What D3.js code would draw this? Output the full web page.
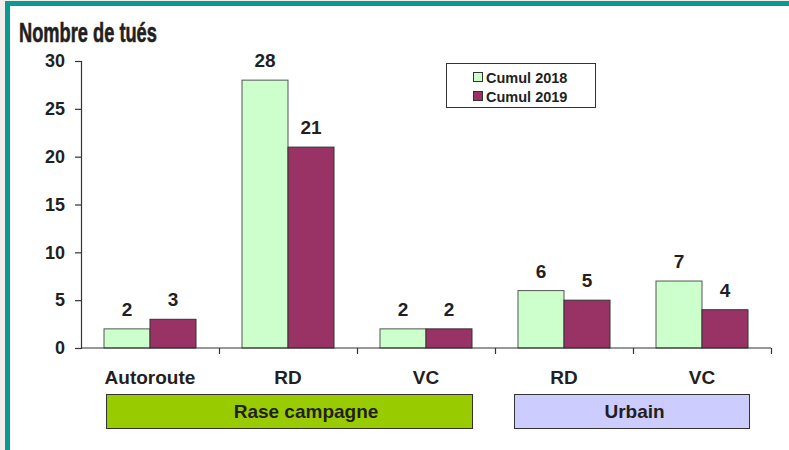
<!DOCTYPE html>
<html><head><meta charset="utf-8">
<script src="https://cdn.jsdelivr.net/npm/d3@7"></script>
<style>
html,body{margin:0;padding:0;background:#fff;}
svg{display:block;}
text{font-family:Arial,"Liberation Sans",sans-serif;fill:#231f20;}
</style></head>
<body>
<svg id="c" width="789" height="450"></svg>
<script>
const categories = ["Autoroute","RD","VC","RD","VC"];
const series = ["Cumul 2018","Cumul 2019"];
const values2018 = [2,28,2,6,7];
const values2019 = [3,21,2,5,4];
const yTicks = [0,5,10,15,20,25,30];
const groupNames = ["Rase campagne","Urbain"];
const groupFrom = [0,3];
const groupTo = [2,4];
const colors = ["#ccffcc","#993366"];
const groupColors = ["#99cc00","#ccccff"];

const svg = d3.select("#c");
// page frame
svg.append("rect").attr("x",0).attr("y",0).attr("width",789).attr("height",450).attr("fill","#f3eeee");
svg.append("rect").attr("x",5).attr("y",1).attr("width",784).attr("height",449).attr("fill","#0a9a8f");
svg.append("rect").attr("x",10).attr("y",6).attr("width",779).attr("height",444).attr("fill","#ffffff");

const x0 = 81, x1 = 771, yBase = 348, yTop = 61;
const x = d3.scaleBand().domain(d3.range(categories.length)).range([x0,x1]);
const xs = d3.scaleBand().domain(series).range([0,x.bandwidth()]).paddingOuter(0.5).paddingInner(0);
const y = d3.scaleLinear().domain([0,30]).range([yBase,yTop]);

// title (condensed heavy look)
const title = svg.append("text").attr("x",0).attr("y",0)
  .style("font-weight","bold").style("font-size","28px")
  .text("Nombre de tués");
const tw = title.node().getComputedTextLength();
title.attr("transform",`translate(19,42) scale(${138/tw},1)`).style("stroke","#231f20").style("stroke-width","0.6px");

// bars
const g = svg.append("g");
categories.forEach((c,i)=>{
  [values2018[i],values2019[i]].forEach((v,k)=>{
    const bx = x(i)+xs(series[k]);
    g.append("rect").attr("x",bx).attr("y",y(v)).attr("width",xs.bandwidth()).attr("height",yBase-y(v))
      .attr("fill",colors[k]).attr("stroke",k===0?"#555":"#333").attr("stroke-width",1);
    g.append("text").attr("x",bx+xs.bandwidth()/2).attr("y",y(v)-13).attr("text-anchor","middle")
      .style("font-weight","bold").style("font-size","19px").text(v);
  });
});

// y axis
const ya = svg.append("g").attr("transform",`translate(${x0},0)`)
  .call(d3.axisLeft(y).tickValues(yTicks).tickSize(6).tickPadding(10));
ya.select(".domain").attr("stroke","#333").attr("stroke-width",1.2);
ya.selectAll(".tick line").attr("stroke","#333").attr("stroke-width",1.2);
ya.selectAll(".tick text").style("font-family","Arial,'Liberation Sans',sans-serif").style("font-weight","bold").style("font-size","18px").attr("fill","#231f20");

// x axis
const xb = d3.scaleLinear().domain([0,categories.length]).range([x0,x1]);
const xa = svg.append("g").attr("transform",`translate(0,${yBase})`)
  .call(d3.axisBottom(xb).tickValues(d3.range(0,categories.length+1)).tickSize(6).tickFormat(""));
xa.select(".domain").attr("stroke","#333").attr("stroke-width",1.2).attr("d",`M${x0},0H${x1}`);
xa.selectAll(".tick line").attr("stroke","#333").attr("stroke-width",1.2);
xa.selectAll(".tick").filter(d=>d===0).select("line").remove();

// category labels
categories.forEach((c,i)=>{
  svg.append("text").attr("x",x(i)+x.bandwidth()/2).attr("y",384).attr("text-anchor","middle")
    .style("font-weight","bold").style("font-size","19px").text(c);
});

// group boxes
const boxInset = [[25,115],[19,116]];
const labelShift = [17,3];
groupNames.forEach((name,k)=>{
  const gx0 = x(groupFrom[k]) + boxInset[k][0];
  const gx1 = x(groupTo[k]) + boxInset[k][1];
  svg.append("rect").attr("x",gx0+0.5).attr("y",394.5).attr("width",gx1-gx0).attr("height",34)
    .attr("fill",groupColors[k]).attr("stroke","#333").attr("stroke-width",1);
  svg.append("text").attr("x",(gx0+gx1)/2+labelShift[k]).attr("y",418).attr("text-anchor","middle")
    .style("font-weight","bold").style("font-size","19px").text(name);
});

// legend
const lg = svg.append("g");
lg.append("rect").attr("x",446.5).attr("y",63.5).attr("width",149).attr("height",44)
  .attr("fill","#fff").attr("stroke","#333").attr("stroke-width",1);
series.forEach((s,k)=>{
  const ly = 72 + k*19;
  lg.append("rect").attr("x",473.5).attr("y",ly+0.5).attr("width",9).attr("height",9)
    .attr("fill",colors[k]).attr("stroke","#333").attr("stroke-width",1);
  lg.append("text").attr("x",486).attr("y",ly+10.5).style("font-weight","bold").style("font-size","14.5px").text(s);
});
</script>
</body></html>
